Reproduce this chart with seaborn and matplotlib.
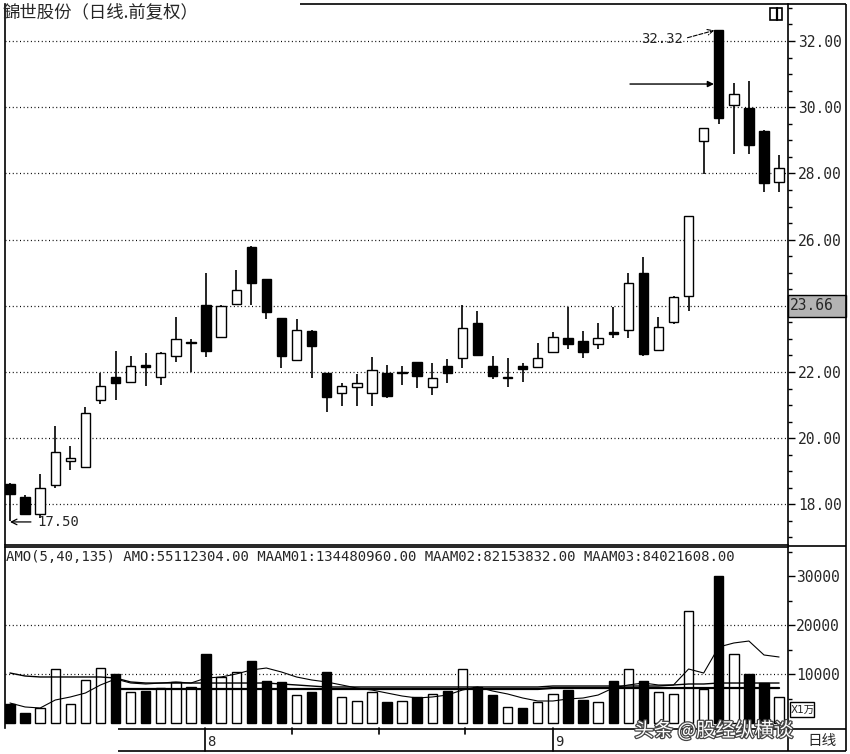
import matplotlib
matplotlib.use("Agg")
import matplotlib.pyplot as plt
import matplotlib.transforms as mtrans
from matplotlib.patches import Rectangle
from matplotlib.ticker import MultipleLocator
import matplotlib.patheffects as pe
import numpy as np
import pandas as pd
import seaborn as sns

# ---------------- data ----------------
opens = [18.62, 18.22, 17.72, 18.60, 19.31, 19.13, 21.15, 21.85, 21.70, 22.20,
         21.85, 22.48, 22.87, 24.02, 23.06, 24.05, 25.78, 24.81, 23.63, 22.36,
         23.24, 21.97, 21.37, 21.55, 21.37, 21.97, 21.96, 22.30, 21.55, 22.18,
         22.42, 23.48, 22.18, 21.81, 22.18, 22.15, 22.60, 23.03, 22.94, 22.85,
         23.20, 23.27, 24.99, 22.66, 23.51, 24.30, 28.98, 32.32, 30.07, 29.98,
         29.28, 27.74]
closes = [18.30, 17.72, 18.50, 19.58, 19.40, 20.76, 21.58, 21.67, 22.18, 22.15,
          22.57, 23.00, 22.89, 22.63, 23.99, 24.48, 24.69, 23.81, 22.48, 23.27,
          22.79, 21.24, 21.58, 21.67, 22.06, 21.27, 21.98, 21.88, 21.82, 21.97,
          23.33, 22.51, 21.88, 21.83, 22.09, 22.42, 23.06, 22.85, 22.60, 23.03,
          23.16, 24.69, 22.54, 23.36, 24.27, 26.71, 29.37, 29.67, 30.40, 28.86,
          27.71, 28.16]
highs = [18.65, 18.27, 18.92, 20.37, 19.76, 20.94, 21.97, 22.63, 22.48, 22.57,
         22.60, 23.66, 23.00, 24.99, 24.03, 25.08, 25.80, 24.82, 23.64, 23.60,
         23.27, 21.98, 21.67, 21.94, 22.45, 22.21, 22.18, 22.31, 22.27, 22.39,
         24.02, 23.84, 22.48, 22.42, 22.27, 22.88, 23.21, 23.96, 23.24, 23.48,
         23.96, 24.99, 25.47, 23.66, 24.30, 26.72, 29.38, 32.32, 30.73, 30.79,
         29.30, 28.56]
lows = [17.50, 17.70, 17.60, 18.50, 19.04, 19.12, 21.03, 21.15, 21.68, 21.58,
        21.61, 22.30, 22.00, 22.45, 23.05, 24.02, 24.02, 23.60, 22.12, 22.33,
        21.82, 20.79, 20.97, 20.97, 20.97, 21.21, 21.61, 21.52, 21.30, 21.67,
        22.12, 22.50, 21.79, 21.55, 21.70, 22.12, 22.58, 22.70, 22.42, 22.70,
        23.03, 23.03, 22.48, 22.65, 23.45, 23.84, 27.98, 29.49, 28.59, 28.59,
        27.44, 27.44]
volumes = [3880, 2040, 3060, 11020, 3880, 8780, 11220, 10000, 6330, 6530,
           7140, 8370, 7350, 14080, 9390, 10410, 12650, 8570, 8370, 5710,
           6330, 10410, 5300, 4490, 6330, 4290, 4490, 5300, 5920, 6530,
           11020, 7350, 5710, 3270, 3060, 4290, 5920, 6730, 4690, 4290,
           8570, 11020, 8570, 6330, 5920, 22860, 6940, 30000, 14080, 10000,
           8160, 5300]
ma5 = [4080, 3270, 3060, 4690, 5310, 6120, 7760, 8980, 8160, 7960,
       8160, 8370, 8160, 9180, 9390, 10000, 10820, 11220, 10410, 9390,
       8780, 8370, 7760, 7140, 6730, 6120, 5510, 5100, 5310, 5710,
       6730, 7350, 6530, 5920, 5100, 4490, 4490, 4900, 5100, 5710,
       7140, 7760, 8160, 7760, 7760, 11020, 10200, 15510, 16330, 16730,
       13880, 13470]
ma40 = [10200, 9590, 9390, 9390, 9390, 9390, 9390, 9180, 8370, 8160,
        8160, 8160, 8160, 8160, 8160, 8160, 8160, 8160, 7960, 7760,
        7550, 7350, 7350, 7350, 7350, 7350, 7350, 7350, 7350, 7350,
        7350, 7350, 7350, 7350, 7350, 7350, 7550, 7550, 7550, 7550,
        7550, 7550, 7550, 7550, 7760, 7960, 7960, 8160, 8160, 8160,
        8160, 8160]
ma135_start = 7
ma135 = [6940] * 29 + [7140] * 16

price_ticks = [18, 20, 22, 26, 28, 30, 32]
grid_prices = [18, 20, 22, 24, 26, 28, 30, 32]
vol_ticks = [10000, 20000, 30000]
vol_grid = [10000, 20000]
last_price_label = "23.66"
last_price_level = 24.0
high_label = "32.32"
low_label = "17.50"
month_labels = ["8", "9"]
month_pos = [12.93, 36.0]
week_pos = [18.7, 24.5, 30.2]
title = "錦世股份（日线.前复权）"
header = "AMO(5,40,135) AMO:55112304.00 MAAM01:134480960.00 MAAM02:82153832.00 MAAM03:84021608.00"
watermark = "头条 @股经纵横谈"

# ---------------- style ----------------
sns.set_style("white")
plt.rcParams['font.family'] = ['DejaVu Sans Mono', 'Noto Sans CJK SC']
MONO = ['DejaVu Sans Mono']
CJK = ['Noto Sans CJK SC', 'DejaVu Sans']

W, H = 850, 754
fig = plt.figure(figsize=(W / 100, H / 100), dpi=100)
fig.patch.set_facecolor('white')


def rect(x0, y0, x1, y1):
    return [x0 / W, 1 - y1 / H, (x1 - x0) / W, (y1 - y0) / H]


PX_PER_BAR = 15.08
X0 = 10.0


def px_to_idx(px):
    return (px - X0) / PX_PER_BAR


xlim = (px_to_idx(5), px_to_idx(788))

pax = fig.add_axes(rect(5, 4, 788, 545))
vax = fig.add_axes(rect(5, 547, 788, 728))
bg = fig.add_axes([0, 0, 1, 1], zorder=10)
bg.set_xlim(0, W)
bg.set_ylim(H, 0)
bg.axis('off')
bg.patch.set_alpha(0)

PPU = 33.1  # px per price unit, 32.00 at y=41
pax.set_ylim(32 - (545 - 41) / PPU, 32 + (41 - 4) / PPU)
pax.set_xlim(*xlim)
VPU = 49 / 10000  # px per volume unit, 0 at y=723
vax.set_xlim(*xlim)

idx = np.arange(len(opens))
o = np.array(opens)
c = np.array(closes)
up = c >= o
body_lo = np.minimum(o, c)
body_h = np.maximum(np.abs(c - o), 0.04)
cols = ['white' if u else 'black' for u in up]

# grid
for p in grid_prices:
    pax.axhline(p, color='black', lw=0.9, ls=(0, (0.8, 2.1)), zorder=1)
for v in vol_grid:
    vax.axhline(v, color='black', lw=0.9, ls=(0, (0.8, 2.1)), zorder=1)

# candles
pax.vlines(idx, lows, highs, color='black', lw=1.2, zorder=2)
pax.bar(idx, body_h, bottom=body_lo, width=0.62, color=cols,
        edgecolor='black', linewidth=1.0, zorder=3)

# volume bars
vax.bar(idx, volumes, width=0.62, color=cols, edgecolor='black',
        linewidth=1.0, zorder=3)

# MA lines via seaborn
sns.lineplot(x=idx, y=ma5, ax=vax, color='black', lw=0.8, zorder=4, legend=False)
sns.lineplot(x=idx, y=ma40, ax=vax, color='black', lw=1.0, zorder=4, legend=False)
sns.lineplot(x=np.arange(ma135_start, ma135_start + len(ma135)), y=ma135, ax=vax,
             color='black', lw=1.6, zorder=4, legend=False)
vax.set_xlabel('')
vax.set_ylabel('')

# ticks
for ax in (pax, vax):
    ax.set_xticks([])
    ax.yaxis.tick_right()
    ax.tick_params(axis='y', which='both', left=False, right=True,
                   labelleft=False, labelright=True, direction='out',
                   color='black', width=1)
pax.set_yticks(price_ticks)
pax.set_yticklabels([f"{v:.2f}" for v in price_ticks], family=MONO)
pax.yaxis.set_minor_locator(MultipleLocator(0.5))
pax.tick_params(axis='y', which='major', length=5, pad=2, labelsize=10.5)
pax.tick_params(axis='y', which='minor', length=3)
vax.set_yticks(vol_ticks)
vax.set_yticklabels([str(v) for v in vol_ticks], family=MONO)
vax.yaxis.set_minor_locator(MultipleLocator(5000))
vax.set_ylim(-(728 - 723) / VPU, (723 - 547) / VPU)
vax.tick_params(axis='y', which='major', length=5, pad=1, labelsize=10.5)
vax.tick_params(axis='y', which='minor', length=3)

for ax in (pax, vax):
    for s in ax.spines.values():
        s.set_color('black')
        s.set_linewidth(1.2)
pax.spines['top'].set_visible(False)
vax.spines['bottom'].set_visible(False)

# annotations
hi_i = int(np.argmax(highs))
lo_i = int(np.argmin(lows))
pax.annotate(high_label, xy=(hi_i - 0.3, highs[hi_i]),
             xytext=(px_to_idx(641), 32 + (41 - 39) / PPU),
             ha='left', va='center', fontsize=10, family=MONO, zorder=6,
             arrowprops=dict(arrowstyle='->', lw=0.8, ls='--', color='black',
                             relpos=(1, 0.5), shrinkA=1, shrinkB=0))
pax.annotate(low_label, xy=(lo_i, lows[lo_i] - 0.03),
             xytext=(px_to_idx(37), lows[lo_i] - 0.03),
             ha='left', va='center', fontsize=10, family=MONO, zorder=6,
             arrowprops=dict(arrowstyle='->', lw=0.9, color='black',
                             relpos=(0, 0.5), shrinkA=2, shrinkB=0))
pax.annotate('', xy=(hi_i - 0.32, 30.70), xytext=(px_to_idx(630), 30.70),
             arrowprops=dict(arrowstyle='-|>', lw=1.0, color='black',
                             mutation_scale=9, shrinkA=0, shrinkB=0), zorder=6)

# title
bg.text(3, 12, title, family=CJK, fontsize=12.5, va='center', ha='left')
# small icon top right
bg.add_patch(Rectangle((770, 8), 12, 12, fill=False, lw=1.2, ec='black'))
bg.plot([777, 777], [8, 20], color='black', lw=1.6)

# frame lines (pixel layout)
frame_kw = dict(color='black', lw=1.2, solid_capstyle='butt')
bg.plot([300, 846], [4, 4], **frame_kw)
bg.plot([846, 846], [4, 751], **frame_kw)
bg.plot([788, 846], [546, 546], **frame_kw)
bg.plot([118, 846], [728.5, 728.5], **frame_kw)
bg.plot([118, 846], [751, 751], **frame_kw)
bg.plot([788, 788], [728, 751], **frame_kw)

# last price box
y_box = 41 + (32 - last_price_level) * PPU
bg.add_patch(Rectangle((788, y_box - 11), 58, 22, fc='#b3b3b3', ec='black', lw=1))
bg.text(790, y_box, last_price_label, family=MONO, fontsize=10.5, va='center', ha='left')

# volume header
bg.text(6, 557, header, family=MONO, fontsize=10.1, va='center', ha='left')

# date strip
trans = mtrans.blended_transform_factory(vax.transData, bg.transData)
for pos, lab in zip(month_pos, month_labels):
    bg.plot([pos, pos], [728, 751], color='black', lw=1.2, transform=trans, clip_on=False)
    bg.text(pos + 0.15, 742, lab, transform=trans, family=MONO, fontsize=10,
            va='center', ha='left')
for pos in week_pos:
    bg.plot([pos, pos], [728, 734], color='black', lw=1.2, transform=trans, clip_on=False)

# bottom-right unit boxes
bg.add_patch(Rectangle((790, 702), 24, 15, fill=False, lw=1, ec='black'))
bg.text(791, 709.5, "X1万", family=['DejaVu Sans', 'Noto Sans CJK SC'], fontsize=7.5,
        va='center', ha='left')
bg.text(822, 741, "日线", family=CJK, fontsize=10.5, va='center', ha='center')

# watermark
bg.text(714, 731, watermark, family=CJK, fontsize=14, va='center', ha='center',
        color='white', zorder=20,
        path_effects=[pe.withStroke(linewidth=1.8, foreground='#444444')])

fig.savefig("out.png", dpi=100)
